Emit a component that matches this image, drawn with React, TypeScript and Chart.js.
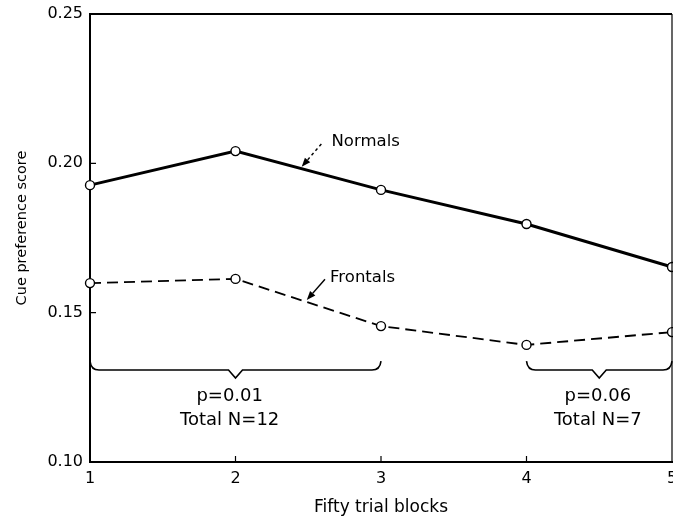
import React, { useEffect, useRef } from 'react';
import { Chart, registerables } from 'chart.js';

Chart.register(...registerables);

// ---- data ----
const blocks = [1, 2, 3, 4, 5];
const normals = [0.1927, 0.2041, 0.1911, 0.1797, 0.1653];
const frontals = [0.1599, 0.1613, 0.1455, 0.1392, 0.1435];
const seriesNames = ['Normals', 'Frontals'];
const xTickLabels = ['1', '2', '3', '4', '5'];
const yTickLabels = ['0.10', '0.15', '0.20', '0.25'];
const xTitle = 'Fifty trial blocks';
const yTitle = 'Cue preference score';

// significance brackets: [from block, to block, tip block]
const bracketSpans = [
  [1, 3, 2],
  [4, 5, 4.5],
];
const bracketLevel = 0.1308;
const bracketTipLevel = 0.1281;
const bracketEndLevel = 0.1338;
const bracketTexts = [
  ['p=0.01', 'Total N=12'],
  ['p=0.06', 'Total N=7'],
];
const bracketTextX = [1.96, 4.49];
const bracketTextLevels = [0.1221, 0.1141];

// series labels: [text x, text y, arrow tail x, arrow tail y, arrow tip x]
const labelAnchors = [
  [2.66, 0.2073, 2.59, 0.2065, 2.455],
  [2.65, 0.1617, 2.615, 0.1612, 2.49],
];

const FONT = '"DejaVu Sans", sans-serif';

function interp(series: number[], x: number) {
  const i = Math.min(Math.floor(x) - 1, series.length - 2);
  const t = x - (i + 1);
  return series[i] + t * (series[i + 1] - series[i]);
}

const overlayPlugin = {
  id: 'overlay',
  afterDraw(chart: any) {
    const ctx = chart.ctx as CanvasRenderingContext2D;
    const xs = chart.scales.x;
    const ys = chart.scales.y;
    const area = chart.chartArea;
    ctx.save();
    ctx.strokeStyle = '#000';
    ctx.fillStyle = '#000';

    // frame top & right
    ctx.lineWidth = 2;
    ctx.beginPath();
    ctx.moveTo(area.left, area.top);
    ctx.lineTo(area.right, area.top);
    ctx.stroke();
    ctx.lineWidth = 1.2;
    ctx.beginPath();
    ctx.moveTo(area.right, area.top);
    ctx.lineTo(area.right, area.bottom);
    ctx.stroke();

    // inward ticks
    ctx.lineWidth = 1.2;
    ctx.beginPath();
    for (let i = 1; i < blocks.length - 1; i++) {
      const px = xs.getPixelForValue(blocks[i]);
      ctx.moveTo(px, area.bottom);
      ctx.lineTo(px, area.bottom - 6);
    }
    for (let i = 1; i < yTickLabels.length - 1; i++) {
      const py = ys.getPixelForValue(parseFloat(yTickLabels[i]));
      ctx.moveTo(area.left, py);
      ctx.lineTo(area.left + 6, py);
    }
    ctx.stroke();

    // brackets
    ctx.lineWidth = 1.6;
    const yl = ys.getPixelForValue(bracketLevel);
    const yt = ys.getPixelForValue(bracketTipLevel);
    const ye = ys.getPixelForValue(bracketEndLevel);
    bracketSpans.forEach(([a, b, m]) => {
      const x0 = xs.getPixelForValue(a);
      const x1 = xs.getPixelForValue(b);
      const xm = xs.getPixelForValue(m);
      ctx.beginPath();
      ctx.moveTo(x0, ye);
      ctx.quadraticCurveTo(x0 + 1, yl, x0 + 9, yl);
      ctx.lineTo(xm - 7, yl);
      ctx.lineTo(xm, yt);
      ctx.lineTo(xm + 7, yl);
      ctx.lineTo(x1 - 9, yl);
      ctx.quadraticCurveTo(x1 - 1, yl, x1, ye);
      ctx.stroke();
    });

    // bracket texts
    ctx.font = `18px ${FONT}`;
    ctx.textAlign = 'center';
    ctx.textBaseline = 'middle';
    bracketTexts.forEach((lines, i) => {
      const px = xs.getPixelForValue(bracketTextX[i]);
      lines.forEach((t, j) => {
        ctx.fillText(t, px, ys.getPixelForValue(bracketTextLevels[j]));
      });
    });

    // series labels with arrows
    const seriesData = [normals, frontals];
    labelAnchors.forEach(([tx, ty, ax, ay, tipX], i) => {
      ctx.font = `16.5px ${FONT}`;
      ctx.textAlign = 'left';
      ctx.textBaseline = 'middle';
      ctx.fillText(seriesNames[i], xs.getPixelForValue(tx), ys.getPixelForValue(ty));
      const sx = xs.getPixelForValue(ax);
      const sy = ys.getPixelForValue(ay);
      const ex = xs.getPixelForValue(tipX);
      const ey = ys.getPixelForValue(interp(seriesData[i], tipX)) - 2;
      const ang = Math.atan2(ey - sy, ex - sx);
      const hl = 9;
      const bx = ex - hl * Math.cos(ang);
      const by = ey - hl * Math.sin(ang);
      ctx.lineWidth = 1.4;
      ctx.setLineDash(i === 0 ? [3, 3] : []);
      ctx.beginPath();
      ctx.moveTo(sx, sy);
      ctx.lineTo(bx, by);
      ctx.stroke();
      ctx.setLineDash([]);
      ctx.beginPath();
      ctx.moveTo(ex, ey);
      ctx.lineTo(bx + 3.5 * Math.sin(ang), by - 3.5 * Math.cos(ang));
      ctx.lineTo(bx - 3.5 * Math.sin(ang), by + 3.5 * Math.cos(ang));
      ctx.closePath();
      ctx.fill();
    });

    // y axis title
    ctx.save();
    ctx.translate(22, 228);
    ctx.rotate(-Math.PI / 2);
    ctx.font = `14.5px ${FONT}`;
    ctx.textAlign = 'center';
    ctx.textBaseline = 'middle';
    ctx.fillText(yTitle, 0, 0);
    ctx.restore();

    ctx.restore();
  },
};

export default function App() {
  const ref = useRef<HTMLCanvasElement | null>(null);

  useEffect(() => {
    if (!ref.current) return;
    const pointStyle = {
      pointRadius: 4.5,
      pointBackgroundColor: '#fff',
      pointBorderColor: '#000',
      pointBorderWidth: 1.4,
    };
    const chart = new Chart(ref.current, {
      type: 'line',
      data: {
        datasets: [
          {
            label: seriesNames[0],
            data: blocks.map((b, i) => ({ x: b, y: normals[i] })),
            borderColor: '#000',
            borderWidth: 3,
            tension: 0,
            clip: false as any,
            ...pointStyle,
          },
          {
            label: seriesNames[1],
            data: blocks.map((b, i) => ({ x: b, y: frontals[i] })),
            borderColor: '#000',
            borderWidth: 1.8,
            borderDash: [11, 6],
            tension: 0,
            clip: false as any,
            ...pointStyle,
          },
        ],
      },
      options: {
        animation: false,
        responsive: false,
        maintainAspectRatio: false,
        layout: { autoPadding: false, padding: { top: 14, right: 1, left: 0, bottom: 0 } },
        plugins: {
          legend: { display: false },
          tooltip: { enabled: false },
        },
        scales: {
          x: {
            type: 'linear',
            min: 1,
            max: 5,
            grid: { display: false, drawTicks: false },
            border: { display: true, color: '#000', width: 2 },
            ticks: {
              stepSize: 1,
              padding: 7,
              color: '#000',
              font: { family: FONT, size: 16 },
              callback: (v: any) => xTickLabels[blocks.indexOf(Number(v))] ?? '',
            },
            title: {
              display: true,
              text: xTitle,
              color: '#000',
              font: { family: FONT, size: 17 },
              padding: { top: 0, bottom: 0 },
            },
            afterFit: (s: any) => {
              s.height = 56;
              s.paddingLeft = 0;
              s.paddingRight = 0;
            },
          },
          y: {
            type: 'linear',
            min: 0.1,
            max: 0.25,
            grid: { display: false, drawTicks: false },
            border: { display: true, color: '#000', width: 2 },
            afterBuildTicks: (s: any) => {
              s.ticks = yTickLabels.map((t) => ({ value: parseFloat(t) }));
            },
            ticks: {
              padding: 7,
              color: '#000',
              font: { family: FONT, size: 16 },
              callback: (v: any) => {
                const idx = yTickLabels.findIndex((t) => Math.abs(parseFloat(t) - Number(v)) < 1e-6);
                return idx >= 0 ? yTickLabels[idx] : '';
              },
            },
            title: { display: false },
            afterFit: (s: any) => {
              s.width = 90;
              s.paddingTop = 0;
              s.paddingBottom = 0;
            },
          },
        },
      },
      plugins: [overlayPlugin],
    });
    return () => chart.destroy();
  }, []);

  return (
    <div style={{ position: 'fixed', left: 0, top: 0, width: 673, height: 518, background: '#fff' }}>
      <canvas ref={ref} width={673} height={518} style={{ display: 'block' }} />
    </div>
  );
}
